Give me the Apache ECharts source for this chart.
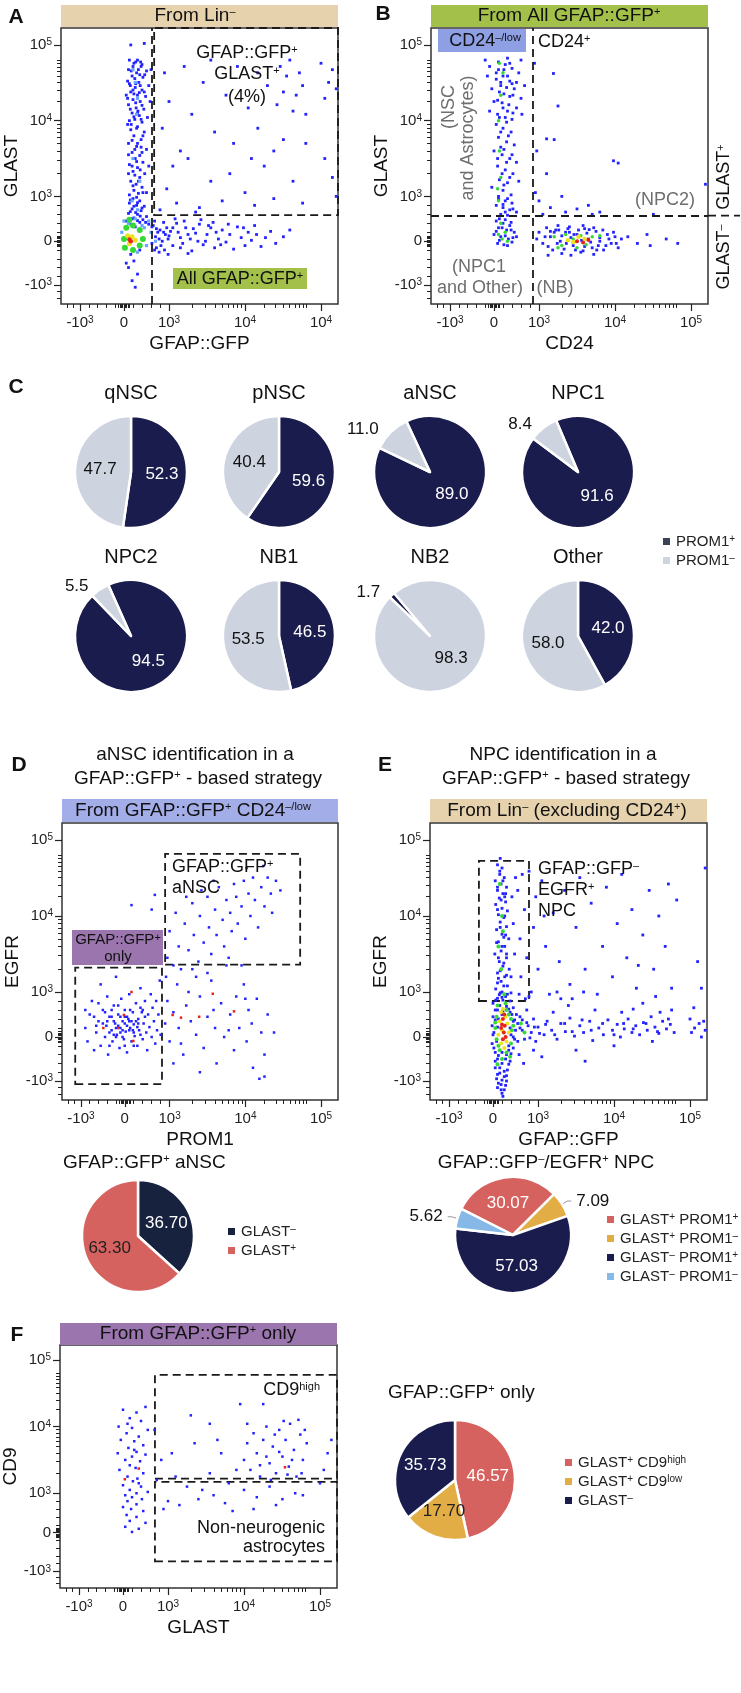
<!DOCTYPE html>
<html>
<head>
<meta charset="utf-8">
<script src="https://cdn.jsdelivr.net/npm/echarts@6/dist/echarts.min.js"></script>
<style>
html, body { margin: 0; padding: 0; background: #fff; }
#fig { width: 741px; height: 1693px; }
</style>
</head>
<body>
<div id="fig"></div>
<script>
// ---------- data (flow plots are in biex "decade" units: -1 = -10^3, 0 = 0, 1 = 10^3, 2 = 10^4, 3 = 10^5) ----------
const tickDecades = [-1, 0, 1, 2, 3];
const tickLabels = ['-10{s|3}', '0', '10{s|3}', '10{s|4}', '10{s|5}'];
const tickLabelsA = ['-10{s|3}', '0', '10{s|3}', '10{s|4}', '10{s|4}'];

// panel A
const aBlue = [[0.15,3.0],[0.3,2.95],[0.45,3.02],[0.22,2.9],[0.38,2.85],[0.1,2.8],[0.5,2.78],[0.28,2.75],[0.18,2.7],[0.42,2.68],[0.33,2.6],[0.08,2.62],[0.55,2.55],[0.25,2.52],[0.4,2.48],[0.15,2.45],[0.3,2.4],[0.48,2.38],[0.2,2.33],[0.36,2.3],[0.1,2.25],[0.27,2.2],[0.44,2.18],[0.18,2.12],[0.34,2.08],[0.52,2.05],[0.24,2.02],[0.12,2.0],[0.4,1.98],[0.2,2.85],[0.35,2.72],[0.26,2.58],[0.45,2.45],[0.14,2.55],[0.31,2.15],[0.22,2.42],[0.37,2.92],[0.05,2.4],[0.58,2.3],[0.6,2.8],
  [0.3,1.92],[0.15,1.88],[0.45,1.85],[0.22,1.8],[0.38,1.75],[0.1,1.7],[0.28,1.66],[0.5,1.62],[0.18,1.58],[0.35,1.54],[0.25,1.5],[0.42,1.45],[0.12,1.42],[0.3,1.38],[0.2,1.33],[0.46,1.3],[0.35,1.25],[0.15,1.2],[0.27,1.16],[0.4,1.12],[0.22,1.08],[0.32,1.04],[0.12,1.02],[0.5,1.05],[0.38,1.65],[0.08,1.95],[0.55,1.4],
  [0.2,0.95],[0.35,0.9],[0.12,0.85],[0.28,0.8],[0.45,0.78],[0.18,0.72],[0.38,0.68],[0.1,0.62],[0.3,0.6],[0.5,0.55],[0.22,0.52],[0.42,0.48],[0.05,0.45],[0.35,0.42],[0.55,0.38],
  [0.15,-0.3],[0.22,-0.45],[0.1,-0.6],[0.3,-0.75],[0.18,-0.9],[0.25,-1.05],[0.05,-0.5],[0.35,-0.2],
  [0.65,0.35],[0.7,0.1],[0.72,-0.15],[0.8,0.25],[0.85,0.0],[0.9,-0.2],[0.95,0.3],[1.0,0.12],[1.05,-0.1],[1.1,0.4],[1.12,0.2],[1.18,-0.05],[1.22,0.3],[1.28,0.05],[1.3,-0.22],[1.35,0.18],[1.4,0.38],[1.45,-0.08],[1.5,0.15],[1.55,0.3],[1.6,-0.15],[1.65,0.05],[1.7,0.25],[1.75,-0.02],[1.8,0.15],[1.85,-0.18],[1.9,0.32],[1.95,0.08],[2.0,-0.1],[2.05,0.2],[2.1,0.02],[2.18,0.15],[2.25,-0.12],[2.32,0.08],[2.4,0.22],[2.48,-0.05],[2.6,0.1],[2.7,0.25],
  [0.68,0.45],[0.78,-0.25],[0.88,0.42],[0.98,-0.3],[1.08,0.5],[1.25,-0.28],[1.42,0.48],[1.58,0.42],[1.02,0.22],[1.15,0.08],[1.32,0.28],[0.75,0.2],[0.92,0.15],[1.2,0.45],[1.48,0.0],[1.62,0.2],[1.78,0.38],[1.98,0.3],[2.15,0.35],[0.82,-0.1],
  [0.8,0.7],[0.95,1.1],[1.1,0.85],[1.25,1.5],[1.4,0.75],[1.55,1.2],[1.7,0.9],[1.85,1.7],[2.0,1.05],[2.15,0.8],[2.3,1.4],[2.45,0.95],[2.6,1.75],[2.75,1.2],[2.9,0.85],[3.05,1.5],[3.2,1.0],[3.3,0.68],
  [0.85,1.9],[1.0,2.3],[1.15,1.6],[1.3,2.1],[1.45,2.6],[1.6,1.85],[1.75,2.4],[1.9,2.85],[2.05,2.2],[2.2,1.9],[2.35,2.55],[2.5,2.25],[2.65,2.7],[2.8,2.4],[2.95,2.1],[3.1,2.6],[3.25,2.3],[0.9,2.75],[1.2,2.85],[1.55,2.95],
  [2.55,2.85],[2.7,2.95],[2.85,2.75],[3.0,2.9],[3.15,2.8],[3.3,2.7],[2.9,2.55],[3.05,2.35],[3.2,2.5],[2.6,2.45],[2.75,2.15],[3.28,2.05],[2.45,1.6],[2.2,2.75],[1.8,1.3],[1.35,0.65],[1.05,1.4],[2.1,1.5],[2.95,1.7],[3.15,1.25]];
const aDense = [[0.12,2.95],[0.26,2.92],[0.4,2.88],[0.16,2.78],[0.32,2.8],[0.46,2.72],[0.24,2.66],[0.12,2.58],[0.36,2.55],[0.2,2.48],[0.34,2.44],[0.08,2.35],[0.26,2.28],[0.4,2.24],[0.14,2.18],[0.3,2.12],[0.22,2.06],[0.38,2.02],[0.16,1.95],[0.28,1.9],[0.42,1.8],[0.18,1.74],[0.3,1.7],[0.24,1.62],[0.4,1.58],[0.1,1.55],[0.28,1.46],[0.18,1.4],[0.36,1.35],[0.24,1.28],[0.1,1.3],[0.32,1.2],[0.2,1.14],[0.42,1.05],[0.28,0.98],[0.14,0.92],[0.3,0.86],[0.22,0.78],[0.4,0.74],[0.14,0.66],[0.26,0.64],[0.36,0.56],[0.18,0.5],[0.3,0.46],[0.48,0.42],[0.15,0.38],[0.25,0.32],[0.62,0.32],[0.72,0.28],[0.78,0.05],[0.88,0.2],[0.98,0.05],[1.05,0.3],[1.15,-0.15],[1.25,0.15],[1.38,0.0],[1.52,0.35],[1.68,-0.08],[0.62,-0.05],[0.68,-0.2]];
const aCyan = [[0.25,2.6],[0.3,2.35],[0.2,1.5],[0.18,0.9],[0.3,0.7],[0.25,0.5],[0.4,0.35],[0.1,0.4],[0.6,0.2],[0.7,0.0],[0.28,2.1],[0.2,2.8],[0.35,1.2],[0.45,0.3],[0.5,-0.1],[0.0,0.45],[-0.05,0.2],[0.3,-0.25],[0.55,0.45]];
const aGreen = [[0.05,0.3],[0.2,0.35],[0.35,0.25],[0.42,0.05],[0.0,0.05],[0.02,-0.15],[0.2,-0.2],[0.35,-0.1],[0.12,0.48]];
const aYellow = [[0.08,0.12],[0.18,0.1],[0.12,-0.06],[0.25,0.02]];
const aRed = [[0.12,0.04],[0.15,0.0]];

// panel B
const bBlue = [[-0.2,2.95],[0.0,3.0],[0.15,3.05],[0.3,2.98],[0.45,3.0],[0.6,2.95],[-0.1,2.85],[0.1,2.8],[0.25,2.88],[0.4,2.82],[0.55,2.75],[-0.15,2.7],[0.05,2.65],[0.2,2.7],[0.35,2.62],[0.5,2.6],[0.68,2.55],[-0.05,2.5],[0.12,2.45],[0.28,2.52],[0.42,2.4],[0.6,2.35],[0.0,2.3],[0.18,2.28],[0.33,2.25],[0.5,2.2],[-0.1,2.15],[0.08,2.1],[0.25,2.05],[0.4,2.02],[0.62,2.1],[0.15,2.6],[0.3,2.15],[0.45,2.5],
  [0.05,1.95],[0.2,1.9],[0.38,1.85],[0.1,1.78],[0.28,1.72],[0.45,1.68],[0.0,1.6],[0.18,1.55],[0.35,1.5],[0.5,1.45],[0.08,1.4],[0.25,1.35],[0.42,1.3],[0.12,1.22],[0.3,1.18],[-0.05,1.12],[0.2,1.08],[0.38,1.02],[0.55,1.2],[0.15,1.65],
  [0.1,0.95],[0.25,0.9],[0.4,0.85],[0.05,0.8],[0.2,0.75],[0.35,0.7],[0.5,0.65],[0.15,0.6],[0.3,0.58],
  [0.05,0.45],[0.2,0.4],[0.35,0.35],[0.1,0.3],[0.28,0.25],[0.45,0.2],[0.0,0.15],[0.15,0.1],[0.32,0.05],[0.5,0.1],[0.08,-0.05],[0.22,-0.08],[0.4,-0.02],
  [1.0,0.2],[1.05,-0.05],[1.1,0.3],[1.15,0.1],[1.18,-0.2],[1.22,0.25],[1.28,0.0],[1.3,-0.28],[1.35,0.2],[1.4,0.32],[1.45,-0.1],[1.5,0.15],[1.55,-0.25],[1.6,0.28],[1.65,0.05],[1.7,-0.15],[1.75,0.22],[1.8,0.0],[1.85,-0.2],[1.9,0.15],[1.95,-0.05],[2.0,0.1],[2.05,-0.15],[1.12,-0.32],[1.42,-0.32],[1.72,-0.3],[1.25,0.35],[1.58,0.35],[2.1,0.05],[0.95,0.05],
  [2.2,0.1],[2.35,-0.05],[2.5,0.15],[2.55,-0.1],[2.8,0.05],[2.98,-0.05],
  [1.0,0.9],[1.15,0.75],[1.35,0.65],[1.5,0.72],[1.1,1.3],[1.3,1.0],[1.65,0.8],[1.8,0.65],[0.95,1.6],[1.2,1.75],[1.19,2.74],[1.25,2.23],[1.1,1.76],[1.98,1.47],[2.05,1.44],[3.19,1.16],[1.7,0.6],[0.9,2.9],[0.92,1.05],[1.05,0.6],[2.6,0.6]];
const bDense = [[0.1,2.92],[0.22,2.8],[0.35,2.9],[0.05,2.75],[0.3,2.7],[0.15,2.55],[0.4,2.58],[0.22,2.42],[0.08,2.32],[0.35,2.38],[0.2,2.2],[0.42,2.12],[0.12,2.05],[0.28,1.98],[0.15,1.85],[0.32,1.8],[0.22,1.62],[0.4,1.55],[0.08,1.5],[0.28,1.45],[0.18,1.3],[0.35,1.25],[0.22,1.15],[0.1,1.0],[0.3,0.95],[0.2,0.82],[0.42,0.72],[0.25,0.65],[0.12,0.5],[0.25,0.48],[0.38,0.42],[0.18,0.3],[0.38,0.25],[0.05,0.22],[0.25,0.12],[0.42,0.08],[0.12,0.02],[0.3,-0.1],
  [1.08,0.1],[1.12,-0.12],[1.2,0.2],[1.24,-0.05],[1.3,0.12],[1.33,-0.18],[1.38,0.28],[1.42,0.08],[1.48,-0.2],[1.52,0.25],[1.56,0.02],[1.6,-0.12],[1.63,0.18],[1.68,-0.02],[1.72,0.3],[1.76,-0.2],[1.8,0.08],[1.84,0.25],[1.88,-0.1],[1.92,0.05],[1.98,0.2],[2.02,-0.05],[1.4,0.2],[1.46,0.15],[1.36,-0.05],[1.26,0.25],[1.15,0.22],[1.58,-0.22],[1.66,0.26],[1.78,-0.1]];
const bGreen = [[0.12,2.9],[0.15,2.4],[0.1,2.0],[0.12,1.6],[0.15,1.25],[0.1,0.9],[0.15,0.4],[0.1,0.15],[0.25,0.2],[0.3,0.0],[0.2,2.75],[0.08,1.1],[0.18,0.05],
  [1.2,0.1],[1.3,-0.1],[1.35,0.15],[1.45,0.05],[1.55,0.12],[1.62,-0.08],[1.7,0.1],[1.5,-0.15],[1.25,-0.15],[1.8,0.12]];
const bYellow = [[1.45,-0.02],[1.6,0.05],[1.52,0.1],[1.38,0.02]];
const bRed = [[1.5,0.0],[1.58,-0.03],[1.65,0.03]];

// panel D
const dBlue = [[-0.9,0.2],[-0.85,-0.1],[-0.8,0.5],[-0.75,0.8],[-0.7,-0.3],[-0.65,0.1],[-0.6,0.35],[-0.55,1.1],[-0.55,-0.2],[-0.5,0.6],[-0.45,0.0],[-0.42,0.25],[-0.4,0.9],[-0.38,-0.4],[-0.35,0.45],[-0.3,0.15],[-0.28,-0.1],[-0.25,0.7],[-0.22,0.3],[-0.2,1.2],[-0.18,0.05],[-0.15,0.5],[-0.12,-0.25],[-0.1,0.2],[-0.08,0.85],[-0.05,0.35],[-0.02,-0.05],[0.0,0.6],[0.02,0.12],[0.05,-0.35],[0.08,0.4],[0.1,0.95],[0.12,0.2],[0.15,-0.1],[0.18,0.55],[0.2,0.28],[0.22,0.02],[0.25,0.75],[0.28,-0.2],[0.3,0.4],[0.32,0.15],[0.35,1.05],[0.38,0.55],[0.4,-0.05],[0.42,0.3],[0.45,0.8],[0.48,0.1],[0.5,-0.3],[0.52,0.5],[0.55,0.22],[0.58,0.95],[0.6,0.0],[0.62,0.65],[0.65,0.35],[0.68,-0.15],[0.7,0.8],[0.72,0.15],[0.75,0.5],[0.78,1.15],[0.8,0.05],
  [-0.3,0.45],[-0.2,0.2],[-0.1,0.1],[0.0,0.3],[0.1,0.15],[-0.15,0.25],[0.05,0.45],[0.2,0.1],[-0.05,0.0],[0.15,0.35],[-0.25,0.05],[0.28,0.22],[-0.4,0.35],[-0.6,0.75],[0.35,0.65],[-0.7,0.45],[-0.9,0.6],[0.45,0.45],[-0.35,-0.2],[0.0,-0.2],
  [-0.5,0.3],[-0.3,0.6],[-0.2,0.0],[-0.1,0.45],[0.05,0.25],[0.12,0.6],[0.25,0.35],[0.35,0.05],[-0.45,0.55],[-0.65,0.25],[-0.15,0.7],[0.2,-0.2],[0.4,0.6],[-0.05,0.15],[0.1,0.35],[-0.25,0.35],[0.3,0.3],[-0.35,0.1],[0.0,0.45],[0.18,0.15],
  [0.9,0.3],[0.95,0.8],[1.0,-0.1],[1.05,0.55],[1.1,1.1],[1.12,0.2],[1.18,-0.4],[1.22,0.7],[1.28,0.35],[1.3,1.3],[1.35,0.05],[1.4,0.9],[1.45,-0.25],[1.5,0.45],[1.55,1.15],[1.6,0.2],[1.62,-0.6],[1.68,0.75],[1.72,0.0],[1.75,1.35],[1.8,0.5],[1.85,-0.3],[1.88,0.9],[1.92,0.2],[1.98,1.1],[2.02,-0.1],[2.05,0.6],[2.1,0.3],[2.12,-0.7],[2.18,0.85],[2.25,0.1],[2.3,-0.4],[2.35,0.5],[1.05,-0.6],[1.4,-0.8],[2.22,-0.95],[2.3,-0.9],[1.25,1.0],[1.5,1.25],[0.92,1.2],[1.15,-0.15],[1.78,0.15],[2.0,0.85],[1.58,0.6],[2.45,0.1],
  [0.95,1.45],[1.0,1.8],[1.05,1.35],[1.08,2.05],[1.12,1.6],[1.15,1.3],[1.2,1.9],[1.25,1.55],[1.3,2.2],[1.32,1.75],[1.38,1.4],[1.4,2.0],[1.45,1.65],[1.5,2.3],[1.52,1.85],[1.55,1.5],[1.6,2.1],[1.62,1.75],[1.65,2.45],[1.7,1.95],[1.72,1.6],[1.75,2.25],[1.8,2.05],[1.82,1.8],[1.85,2.5],[1.88,2.3],[1.9,1.9],[1.95,2.15],[1.98,2.55],[2.0,1.7],[2.05,2.35],[2.08,2.0],[2.12,2.6],[2.15,2.25],[2.2,1.85],[2.25,2.45],[2.3,2.15],[2.35,2.6],[2.4,2.35],[2.48,2.55],[2.55,2.4],[1.42,2.4],[1.58,2.55],[1.78,1.45],[2.02,2.75],[2.28,2.78],[1.22,2.3],[1.35,1.2],[1.95,1.35],[2.42,2.05],
  [0.15,2.17],[0.67,2.33],[0.6,2.1]];
const dRed = [[0.15,1.0],[-0.02,0.49],[-0.49,0.2],[1.04,0.49],[1.15,0.43],[1.39,0.45],[1.57,0.96],[1.85,0.57],[0.19,-0.09],[-0.15,0.2]];

// panel E
const eBlue = [[0.1,2.8],[0.2,2.75],[0.15,2.65],[0.25,2.6],[0.05,2.55],[0.18,2.5],[0.3,2.45],[0.1,2.4],[0.22,2.35],[0.14,2.28],[0.28,2.22],[0.06,2.18],[0.2,2.12],[0.32,2.08],[0.12,2.02],[0.24,1.98],[0.16,1.92],[0.3,1.86],[0.08,1.82],[0.2,1.76],[0.35,1.7],[0.12,1.66],[0.26,1.6],[0.18,1.54],[0.04,1.5],[0.3,1.45],[0.14,1.4],[0.22,1.34],[0.36,1.3],[0.1,1.25],[0.26,1.2],[0.18,1.14],[0.32,1.08],[0.06,1.04],[0.2,1.0],[0.4,0.98],[0.14,0.94],[0.28,0.9],[0.1,0.86],[0.22,0.82],[0.38,0.8],[0.42,2.3],[0.45,1.9],[0.48,1.5],[0.5,2.6],[0.4,1.2],[0.16,2.9],[0.26,2.3],[0.24,1.72],[0.12,1.18],
  [0.0,0.75],[0.15,0.7],[0.3,0.68],[0.45,0.65],[0.05,0.6],[0.22,0.58],[0.38,0.55],[0.52,0.5],[0.0,0.45],[0.12,0.4],[0.45,0.35],[0.55,0.3],[-0.02,0.25],[0.5,0.15],[0.0,0.05],[0.45,0.0],[0.55,-0.1],[-0.02,-0.15],[0.45,-0.25],[0.05,-0.35],[0.3,-0.4],[0.1,-0.5],[0.38,-0.55],[0.2,-0.6],[0.05,-0.7],[0.32,-0.75],[0.15,-0.82],[0.25,-0.9],[0.08,-0.95],[0.3,-1.0],[0.18,-1.08],[0.1,-1.15],[0.25,-1.2],[0.2,-1.28],[0.35,-0.3],[0.6,0.45],[0.58,-0.4],
  [0.6,0.2],[0.65,0.38],[0.7,-0.05],[0.78,0.25],[0.85,0.1],[0.9,0.4],[0.95,-0.1],[1.0,0.22],[1.08,0.05],[1.12,0.35],[1.18,0.15],[1.25,-0.05],[1.3,0.3],[1.36,0.12],[1.42,0.42],[1.48,0.02],[1.55,0.25],[1.6,0.1],[1.68,0.35],[1.72,-0.08],[1.8,0.2],[1.86,0.05],[1.92,0.38],[1.98,0.15],[2.05,0.28],[2.1,0.0],[2.16,0.18],[2.22,0.4],[2.28,0.1],[2.34,0.25],[2.4,0.05],[2.46,0.32],[2.52,0.15],[2.58,0.45],[2.64,0.22],[2.7,0.08],[2.76,0.35],[2.82,0.18],[2.88,0.28],[2.94,0.1],[3.0,0.4],[3.06,0.2],[3.12,0.3],[3.2,0.15],[3.28,0.25],
  [0.75,0.6],[0.9,-0.3],[1.2,0.55],[1.5,-0.3],[1.75,0.6],[2.0,-0.2],[2.3,0.62],[2.6,-0.1],[2.9,0.6],[3.15,0.0],[1.4,0.7],[2.45,0.75],[1.05,-0.45],[0.68,-0.6],[1.62,-0.55],[2.12,0.55],[2.72,0.55],[3.05,0.65],[0.8,0.9],[1.3,0.85],
  [0.55,2.4],[0.6,1.7],[0.62,1.2],[0.7,2.1],[0.75,1.45],[0.8,2.7],[0.85,1.0],[0.9,1.85],[0.95,2.3],[1.0,1.3],[1.05,2.55],[1.1,1.6],[1.15,0.95],[1.2,2.05],[1.28,1.4],[1.35,2.4],[1.42,1.1],[1.5,1.85],[1.55,2.6],[1.62,1.3],[1.7,2.2],[1.78,0.95],[1.85,1.6],[1.9,2.45],[1.98,1.2],[2.05,1.9],[2.12,2.65],[2.2,1.45],[2.28,2.1],[2.35,1.05],[2.45,1.75],[2.55,2.4],[2.62,1.3],[2.7,2.0],[2.8,1.6],[2.9,1.05],[2.98,2.25],[3.1,1.4],[3.2,2.75],[0.58,0.95],[0.65,2.65],[1.08,2.0],[1.6,1.0],[2.38,1.35],[2.85,2.5],[1.45,0.85],[2.65,0.9],[3.15,1.05],[0.72,0.85],[1.25,1.0]];
const eDense = [[0.15,2.7],[0.22,2.55],[0.1,2.45],[0.28,2.35],[0.18,2.25],[0.1,2.1],[0.26,2.0],[0.16,1.85],[0.28,1.75],[0.08,1.65],[0.2,1.6],[0.3,1.5],[0.12,1.45],[0.24,1.38],[0.16,1.28],[0.3,1.22],[0.1,1.12],[0.24,1.08],[0.16,0.98],[0.32,0.95],[0.2,0.88],[0.06,0.82],
  [0.1,0.6],[0.2,0.5],[0.35,0.62],[0.05,0.38],[0.42,0.5],[0.1,0.22],[0.38,0.2],[0.48,0.38],[0.02,0.1],[0.4,0.05],[0.08,-0.1],[0.48,-0.05],[0.35,-0.2],[0.02,-0.25],[0.2,-0.35],[0.4,-0.38],[0.12,-0.42],[0.28,-0.5],[0.05,-0.55],[0.35,-0.62],[0.15,-0.7],[0.25,-0.78],[0.1,-0.85],[0.3,-0.88],[0.2,-0.98],[0.12,-1.05],[0.28,-1.1],[0.18,-1.2],[0.22,-1.35],[0.15,-1.45],
  [0.65,0.15],[0.75,0.32],[0.82,-0.02],[0.92,0.22],[1.02,0.08],[1.1,0.28],[1.22,0.05],[1.35,0.3],[1.45,0.12],[1.58,0.38],[1.7,0.15],[1.85,0.3],[2.0,0.05],[2.15,0.3],[2.3,0.18],[2.5,0.3],[2.68,0.12],[2.85,0.4],[3.02,0.1],[3.18,0.35]];
const eGreen = [[0.15,2.5],[0.2,2.0],[0.12,1.6],[0.18,1.3],[0.25,0.95],[0.1,0.7],[0.3,0.6],[0.08,0.45],[0.4,0.4],[0.05,0.2],[0.42,0.15],[0.08,-0.05],[0.4,-0.15],[0.15,-0.3],[0.3,-0.35],[0.2,-0.5],[0.1,-0.62],[0.28,0.75],[0.35,0.5],[0.05,0.32],[0.45,0.25],[0.12,-0.2],[0.38,-0.45],[0.22,1.8],[0.62,0.3],[0.7,0.1]];
const eYellow = [[0.18,0.55],[0.28,0.45],[0.15,0.35],[0.32,0.3],[0.2,0.15],[0.35,0.1],[0.12,0.05],[0.3,-0.1],[0.18,-0.15],[0.25,-0.25],[0.22,0.62]];
const eRed = [[0.22,0.4],[0.26,0.25],[0.2,0.28],[0.24,0.1],[0.28,0.0],[0.22,-0.05],[0.25,0.5],[0.18,0.2]];

// panel F
const fBlue = [[0.0,2.3],[0.3,2.25],[0.5,2.35],[0.15,2.15],[0.4,2.1],[-0.1,2.0],[0.2,1.98],[0.55,1.95],[0.08,1.9],[0.35,1.85],[-0.05,1.8],[0.25,1.78],[0.45,1.72],[0.12,1.68],[0.3,1.62],[-0.12,1.6],[0.5,1.58],[0.2,1.55],[0.05,1.5],[0.38,1.48],[0.15,1.42],[0.28,1.38],[-0.08,1.35],[0.45,1.3],[0.1,1.25],[0.32,1.22],[0.22,1.18],[0.0,1.12],[0.4,1.1],[0.15,1.05],[0.3,1.0],[0.55,1.02],[0.05,0.95],[0.2,0.9],[0.42,0.85],[0.1,0.8],[0.3,0.72],[0.0,0.65],[0.18,0.6],[0.45,0.55],[0.08,0.45],[0.3,0.4],[0.15,0.3],[0.5,0.25],[0.05,0.15],[0.35,0.1],[0.2,0.02],[0.25,1.65],[0.1,2.05],[0.35,1.15],
  [2.0,1.5],[2.05,1.75],[2.1,1.35],[2.15,1.9],[2.2,1.6],[2.25,1.25],[2.3,1.8],[2.35,2.0],[2.4,1.45],[2.45,1.7],[2.5,1.3],[2.55,1.95],[2.6,1.55],[2.65,1.8],[2.7,1.4],[2.72,2.05],[2.78,1.65],[2.82,1.25],[2.88,1.88],[2.92,1.5],[2.98,1.75],[3.05,1.35],[3.1,1.6],[2.62,2.1],[2.85,2.12],[2.42,1.2],[2.75,1.5],[2.55,1.62],[2.95,1.95],[3.15,1.8],[2.68,1.28],[2.35,1.55],[2.48,1.88],[2.9,1.3],[2.25,1.42],
  [2.0,1.05],[2.2,0.9],[2.4,1.1],[2.6,0.85],[2.8,1.0],[3.0,1.15],[2.5,0.7],[2.15,0.6],[2.92,0.95],
  [0.7,1.95],[0.75,1.2],[0.85,1.5],[1.0,0.8],[1.05,1.6],[1.15,0.7],[1.25,1.1],[1.35,1.75],[1.4,0.85],[1.55,1.3],[1.6,0.95],[1.7,1.6],[1.8,1.15],[1.85,0.55],[1.9,1.35],[1.3,2.2],[1.55,2.05],[1.95,2.4],[0.9,0.6],[1.1,1.25],[1.45,1.05],[1.75,0.75],[2.05,2.05],[2.3,2.4],[1.65,1.8]];
const fRed = [[0.35,1.37],[0.04,1.21],[2.64,1.39]];

// panel C pies (%)
const cNames = ['qNSC', 'pNSC', 'aNSC', 'NPC1', 'NPC2', 'NB1', 'NB2', 'Other'];
const cProm1Pos = [52.3, 59.6, 89.0, 91.6, 94.5, 46.5, 1.7, 42.0];
const cProm1Neg = [47.7, 40.4, 11.0, 8.4, 5.5, 53.5, 98.3, 58.0];

// bottom pies (%)
const dPieNames = ['GLAST{s|–}', 'GLAST{s|+}'];
const dPieValues = [36.70, 63.30];
const ePieNames = ['GLAST{s|+} PROM1{s|+}', 'GLAST{s|+} PROM1{s|–}', 'GLAST{s|–} PROM1{s|+}', 'GLAST{s|–} PROM1{s|–}'];
const ePieValues = [30.07, 7.09, 57.03, 5.62];
const fPieNames = ['GLAST{s|+} CD9{s|high}', 'GLAST{s|+} CD9{s|low}', 'GLAST{s|–} '];
const fPieValues = [46.57, 17.70, 35.73];

// ---------- styling ----------
const FONT = '"Liberation Sans", Arial, Helvetica, sans-serif';
const NAVY = '#1b1c4e', LIGHT = '#cdd3df', RED = '#d6625f', GOLD = '#e3ad45', SKY = '#86b9e8', DNAVY = '#17223e';
const BLUE = '#2323ff', CYAN = '#6aa6ff', GREEN = '#35d835', YELLOW = '#eee21a', HOT = '#e8231c';
const SUP = { s: { fontSize: 11, verticalAlign: 'top' } };

// biex display: anchors of the decade ticks on a 277-unit axis
const ANCHOR_D = [-1, 0, 1, 2, 3];
const ANCHOR_U = [0, 44, 89, 165, 229];
const AX_MIN = -19, AX_MAX = 258;
function tr(d) {
  const i = Math.min(3, Math.max(0, Math.floor(d) + 1)) - (d >= 3 ? 1 : 0);
  const k = Math.min(3, Math.max(0, i));
  const d0 = ANCHOR_D[k], d1 = ANCHOR_D[k + 1], u0 = ANCHOR_U[k], u1 = ANCHOR_U[k + 1];
  return u0 + (d - d0) * (u1 - u0) / (d1 - d0);
}
const majorU = tickDecades.map(tr);
const minorD = [-1.3, -1.15, -0.8, -0.6, -0.4, -0.2, -0.12, -0.09, -0.06, -0.03, 0.03, 0.06, 0.09, 0.12, 0.2, 0.4, 0.6, 0.8];
for (const k of [1, 2, 3]) for (let m = 2; m <= 9; m++) minorD.push(k + Math.log10(m));
const minorU = minorD.map(tr).filter(u => u > AX_MIN && u < AX_MAX);

const grids = [
  { left: 61, top: 28, width: 277, height: 276 },   // A
  { left: 431, top: 28, width: 277, height: 276 },  // B
  { left: 62, top: 823, width: 276, height: 277 },  // D
  { left: 430, top: 823, width: 277, height: 277 }, // E
  { left: 60, top: 1345, width: 277, height: 243 } // F
];
const xNames = ['GFAP::GFP', 'CD24', 'PROM1', 'GFAP::GFP', 'GLAST'];
const yNames = ['GLAST', 'GLAST', 'EGFR', 'EGFR', 'CD9'];
const xLabelSets = [tickLabelsA, tickLabels, tickLabels, tickLabels, tickLabels];

function labelFor(set) {
  return v => {
    const i = majorU.findIndex(u => Math.abs(u - v) < 1e-6);
    return i >= 0 ? set[i] : '';
  };
}
function axisPair(dim, g) {
  const isX = dim === 'x';
  const major = {
    gridIndex: g, type: 'value', min: AX_MIN, max: AX_MAX,
    position: isX ? 'bottom' : 'left',
    axisLine: { show: false, onZero: false },
    splitLine: { show: false },
    axisTick: { show: true, length: 7, customValues: majorU, lineStyle: { color: '#222', width: 1.2 } },
    axisLabel: {
      customValues: majorU, formatter: labelFor(isX ? xLabelSets[g] : tickLabels),
      fontSize: 15, color: '#222', fontFamily: FONT, margin: isX ? 11 : 9,
      rich: { s: { fontSize: 10, verticalAlign: 'top', color: '#222' } }
    },
    name: isX ? xNames[g] : yNames[g], nameLocation: 'middle',
    nameGap: isX ? 30 : 40,
    nameTextStyle: { fontSize: 19, color: '#111', fontFamily: FONT }
  };
  const minor = {
    gridIndex: g, type: 'value', min: AX_MIN, max: AX_MAX,
    position: isX ? 'bottom' : 'left',
    axisLine: { show: false, onZero: false },
    splitLine: { show: false },
    axisTick: { show: true, length: 4, customValues: minorU, lineStyle: { color: '#222', width: 1 } },
    axisLabel: { show: false }
  };
  return [major, minor];
}
const xAxis = [], yAxis = [];
grids.forEach((g, i) => { const [a, b] = axisPair('x', i); xAxis[i] = a; xAxis[i + 5] = b; });
grids.forEach((g, i) => { const [a, b] = axisPair('y', i); yAxis[i] = a; yAxis[i + 5] = b; });

function dots(g, pts, color, size, symbol, z) {
  return {
    type: 'scatter', xAxisIndex: g, yAxisIndex: g, silent: true, z: z || 2,
    symbol: symbol || 'rect', symbolSize: size, itemStyle: { color: color, opacity: 1 },
    data: pts.map(p => [tr(p[0]), tr(p[1])])
  };
}

// gates (annotations) in decade units: [x1, y1, x2, y2]
const gateBoxes = [
  [[0.67, 0.58, 3.38, 3.27]],
  [],
  [[0.9, 1.36, 2.86, 2.97], [-1.13, -1.07, 0.83, 1.32]],
  [[-0.32, 0.8, 0.8, 2.86]],
  [[0.71, 1.22, 3.42, 2.92], [0.71, -0.74, 3.42, 1.17]]
];
const gateX = [[0.62], [0.86], [], [], []];
const gateY = [[], [0.57], [], [], []];
const DASH = { color: '#1a1a1a', width: 1.8, type: [8, 5] };

function gateSeries(g) {
  return {
    type: 'scatter', xAxisIndex: g, yAxisIndex: g, data: [], silent: true, z: 5,
    markArea: {
      silent: true, label: { show: false },
      itemStyle: { color: 'rgba(0,0,0,0)', borderColor: DASH.color, borderWidth: DASH.width, borderType: DASH.type },
      data: gateBoxes[g].map(b => [{ xAxis: tr(b[0]), yAxis: tr(b[1]) }, { xAxis: tr(b[2]), yAxis: tr(b[3]) }])
    },
    markLine: {
      silent: true, symbol: ['none', 'none'], label: { show: false }, lineStyle: DASH,
      data: gateX[g].map(v => ({ xAxis: tr(v) })).concat(gateY[g].map(v => ({ yAxis: tr(v) })))
    }
  };
}

const series = [
  dots(0, aBlue, BLUE, 2.8), dots(0, aDense, BLUE, 2.8), dots(0, aCyan, CYAN, 3.2), dots(0, aGreen, GREEN, 6, 'circle', 3), dots(0, aYellow, YELLOW, 5, 'circle', 4), dots(0, aRed, HOT, 4.5, 'circle', 4),
  dots(1, bBlue, BLUE, 2.8), dots(1, bDense, BLUE, 2.8), dots(1, bGreen, GREEN, 3.5, 'circle', 3), dots(1, bYellow, YELLOW, 4.5, 'circle', 4), dots(1, bRed, HOT, 4, 'circle', 4),
  dots(2, dBlue, BLUE, 2.5), dots(2, dRed, HOT, 2.5),
  dots(3, eBlue, BLUE, 2.8), dots(3, eDense, BLUE, 2.8), dots(3, eGreen, GREEN, 4, 'circle', 3), dots(3, eYellow, YELLOW, 4, 'circle', 4), dots(3, eRed, HOT, 4, 'circle', 4),
  dots(4, fBlue, BLUE, 2.5), dots(4, fRed, HOT, 2.5)
];
for (let g = 0; g < 5; g++) series.push(gateSeries(g));

// panel C pies
const cCenters = [[131, 472], [279, 472], [430, 472], [578, 472], [131, 636], [279, 636], [430, 636], [578, 636]];
const cStart = [90, 90, 115, 113, 114, 90, 136, 90];
function pieItem(name, value, color, textColor) {
  const small = value < 12;
  return {
    name: name, value: value, itemStyle: { color: color },
    label: small ? { position: 'outside', color: '#111' } : { position: 'inside', color: textColor },
    labelLine: small ? { show: false, length: 4, length2: 4 } : { show: false }
  };
}
cNames.forEach((n, k) => {
  series.push({
    type: 'pie', center: cCenters[k], radius: 56, startAngle: cStart[k], clockwise: true, silent: true,
    avoidLabelOverlap: false,
    itemStyle: { borderColor: '#fff', borderWidth: 2.5 },
    label: { fontSize: 17, fontFamily: FONT, formatter: p => p.value.toFixed(1) },
    data: [pieItem('PROM1{s|+}', cProm1Pos[k], NAVY, '#fff'), pieItem('PROM1{s|–}', cProm1Neg[k], LIGHT, '#111')]
  });
});

// D / E / F pies
const dPieColors = [DNAVY, RED], dPieText = ['#fff', '#222'];
const ePieColors = [RED, GOLD, NAVY, SKY], ePieText = ['#fff', '#111', '#fff', '#111'];
const fPieColors = [RED, GOLD, NAVY], fPieText = ['#fff', '#222', '#fff'];
function bigPie(center, r, start, names, values, colors, texts) {
  return {
    type: 'pie', center: center, radius: r, startAngle: start, clockwise: true, silent: true,
    avoidLabelOverlap: false,
    itemStyle: { borderColor: '#fff', borderWidth: 2.5 },
    label: { fontSize: 17, fontFamily: FONT, formatter: p => p.value.toFixed(2) },
    data: values.map((v, i) => {
      const small = v < 12;
      return {
        name: names[i], value: v, itemStyle: { color: colors[i] },
        label: small ? { position: 'outside', color: '#111' } : { position: 'inside', color: texts[i] },
        labelLine: small ? { show: true, length: 6, length2: 4, lineStyle: { color: '#999', width: 1 } } : { show: false }
      };
    })
  };
}
series.push(bigPie([138, 1236], 56, 90, dPieNames, dPieValues, dPieColors, dPieText));
series.push(bigPie([513, 1235], 58, 153.3, ePieNames, ePieValues, ePieColors, ePieText));
series.push(bigPie([455, 1480], 60, 90, fPieNames, fPieValues, fPieColors, fPieText));

function legendAt(left, top, names, colorOverride) {
  return {
    left: left, top: top, orient: 'vertical', icon: 'rect', itemWidth: 9, itemHeight: 9, itemGap: 4,
    selectedMode: false,
    data: names.map((n, i) => colorOverride ? { name: n, itemStyle: { color: colorOverride[i] } } : n),
    textStyle: { fontSize: 15, color: '#222', fontFamily: FONT, rich: { s: { fontSize: 10, verticalAlign: 'top', color: '#222' } } }
  };
}
const legend = [
  legendAt(656, 529, ['PROM1{s|+}', 'PROM1{s|–}'], ['#3a4258', LIGHT]),
  legendAt(221, 1219, dPieNames),
  legendAt(600, 1207, ePieNames),
  legendAt(558, 1450, fPieNames)
];

// ---------- text and frames ----------
function txt(x, y, text, size, opt) {
  opt = opt || {};
  return {
    type: 'text', x: x, y: y, rotation: opt.rot || 0, silent: true, z: 100,
    style: {
      text: text, fontSize: size, fontFamily: FONT, fontWeight: opt.bold ? 'bold' : 'normal',
      fill: opt.color || '#111', align: opt.align || 'center', textAlign: opt.align || 'center',
      verticalAlign: 'middle', textVerticalAlign: 'middle', rich: SUP
    }
  };
}
function box(x, y, w, h, color) {
  return { type: 'rect', shape: { x: x, y: y, width: w, height: h }, style: { fill: color }, silent: true, z: 90 };
}
function pxY(g, d) {
  const G = grids[g];
  return G.top + G.height * (AX_MAX - tr(d)) / (AX_MAX - AX_MIN);
}
const TAN = '#e6d3ae', OLIVE = '#a3c04b', LAV = '#a3aee9', PURP = '#9b75ae', PERI = '#8f9fe3', GRAY = '#6e6e6e';
const graphic = [
  txt(16, 17, 'A', 21, { bold: true }), txt(383, 14, 'B', 21, { bold: true }), txt(16, 387, 'C', 21, { bold: true }),
  txt(19, 765, 'D', 21, { bold: true }), txt(385, 765, 'E', 21, { bold: true }), txt(17, 1335, 'F', 21, { bold: true }),
  box(61, 5, 277, 22, TAN), txt(195, 16, 'From Lin{s|–}', 19),
  box(431, 5, 277, 22, OLIVE), txt(569, 16, 'From All GFAP::GFP{s|+}', 19),
  box(62, 799, 276, 23, LAV), txt(193, 811, 'From GFAP::GFP{s|+} CD24{s|–/low}', 19),
  box(430, 799, 277, 23, TAN), txt(567, 811, 'From Lin{s|–} (excluding CD24{s|+})', 19),
  box(60, 1323, 277, 22, PURP), txt(198, 1334, 'From GFAP::GFP{s|+} only', 19),
  // A
  txt(247, 53, 'GFAP::GFP{s|+}', 18), txt(247, 74, 'GLAST{s|+}', 18), txt(247, 97, '(4%)', 18),
  box(173, 268, 134, 21, OLIVE), txt(240, 279, 'All GFAP::GFP{s|+}', 18),
  // B
  box(438, 29, 88, 23, PERI), txt(485, 41, 'CD24{s|–/low}', 18), txt(538, 42, 'CD24{s|+}', 18, { align: 'left' }),
  txt(449, 107, '(NSC', 18, { rot: Math.PI / 2, color: GRAY }), txt(468, 138, 'and Astrocytes)', 18, { rot: Math.PI / 2, color: GRAY }),
  txt(665, 200, '(NPC2)', 18, { color: GRAY }), txt(479, 267, '(NPC1', 18, { color: GRAY }), txt(480, 288, 'and Other)', 18, { color: GRAY }),
  txt(555, 288, '(NB)', 18, { color: GRAY }),
  txt(724, 177, 'GLAST{s|+}', 18, { rot: Math.PI / 2 }), txt(724, 257, 'GLAST{s|–}', 18, { rot: Math.PI / 2 }),
  { type: 'line', shape: { x1: 708, y1: pxY(1, gateY[1][0]), x2: 740, y2: pxY(1, gateY[1][0]) }, style: { stroke: DASH.color, lineWidth: DASH.width, lineDash: DASH.type }, silent: true },
  // C titles
  ...cNames.map((n, k) => txt(cCenters[k][0], cCenters[k][1] - 79, n, 20)),
  // D
  txt(195, 755, 'aNSC identification in a', 19), txt(198, 779, 'GFAP::GFP{s|+} - based strategy', 19),
  txt(172, 867, 'GFAP::GFP{s|+}', 18, { align: 'left' }), txt(172, 888, 'aNSC', 18, { align: 'left' }),
  box(72, 930, 91, 35, PURP), txt(118, 940, 'GFAP::GFP{s|+}', 15), txt(118, 957, 'only', 15),
  txt(63, 1163, 'GFAP::GFP{s|+} aNSC', 19, { align: 'left' }),
  // E
  txt(563, 755, 'NPC identification in a', 19), txt(566, 779, 'GFAP::GFP{s|+} - based strategy', 19),
  txt(538, 869, 'GFAP::GFP{s|–}', 18, { align: 'left' }), txt(538, 890, 'EGFR{s|+}', 18, { align: 'left' }), txt(538, 911, 'NPC', 18, { align: 'left' }),
  txt(546, 1163, 'GFAP::GFP{s|–}/EGFR{s|+} NPC', 19),
  // F
  txt(320, 1390, 'CD9{s|high}', 18, { align: 'right' }),
  txt(325, 1528, 'Non-neurogenic', 18, { align: 'right' }), txt(325, 1547, 'astrocytes', 18, { align: 'right' }),
  txt(388, 1393, 'GFAP::GFP{s|+} only', 19, { align: 'left' })
];

const chart = echarts.init(document.getElementById('fig'), null, { renderer: 'canvas' });
chart.setOption({
  animation: false,
  backgroundColor: '#fff',
  textStyle: { fontFamily: FONT },
  grid: grids.map(g => Object.assign({ show: true, borderColor: '#333', borderWidth: 1.5, backgroundColor: 'rgba(0,0,0,0)', containLabel: false, outerBoundsMode: 'none' }, g)),
  xAxis: xAxis,
  yAxis: yAxis,
  legend: legend,
  series: series,
  graphic: graphic
});
</script>
</body>
</html>
